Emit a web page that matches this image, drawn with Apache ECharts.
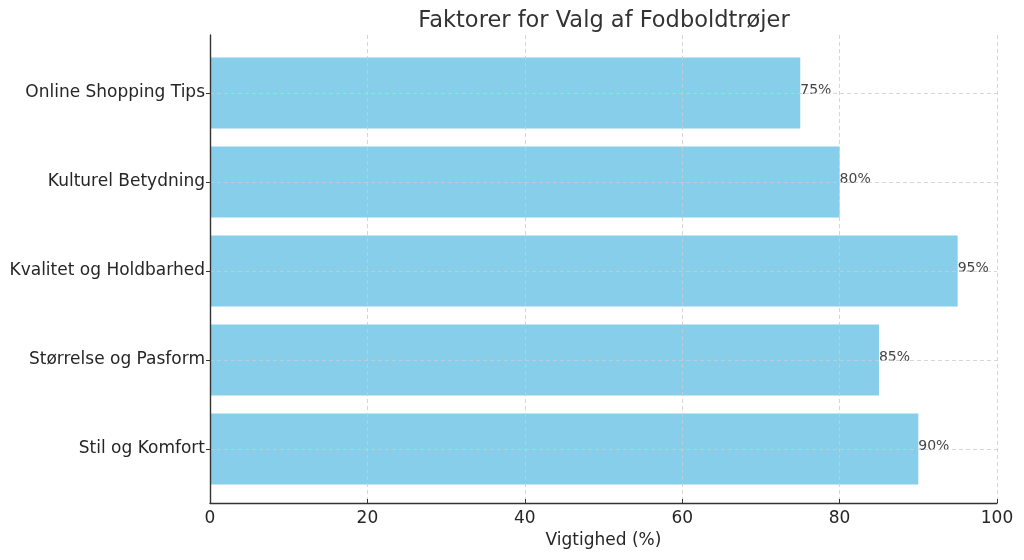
<!DOCTYPE html>
<html>
<head>
<meta charset="utf-8">
<script src="https://cdn.jsdelivr.net/npm/echarts@6/dist/echarts.min.js"></script>
<style>html,body{margin:0;padding:0;background:#fff}#c{width:1024px;height:560px}</style>
</head>
<body>
<div id="c"></div>
<script>
const titleText = 'Faktorer for Valg af Fodboldtrøjer';
const categories = ['Stil og Komfort', 'Størrelse og Pasform', 'Kvalitet og Holdbarhed', 'Kulturel Betydning', 'Online Shopping Tips'];
const values = [90, 85, 95, 80, 75];
const xTicks = [0, 20, 40, 60, 80, 100];
const xName = 'Vigtighed (%)';

const FONT = 'DejaVu Sans';
const TXT = '#262626';
const chart = echarts.init(document.getElementById('c'), null, {renderer: 'canvas'});
const gridLine = {show: true, lineStyle: {color: '#cccccc', type: [4, 3], width: 0.8}};
chart.setOption({
  animation: false,
  backgroundColor: '#ffffff',
  textStyle: {fontFamily: FONT},
  title: {
    text: titleText, left: 599, textAlign: 'center', top: 5,
    textStyle: {fontFamily: FONT, fontSize: 22.5, fontWeight: 'normal', color: '#333333'}
  },
  grid: [
    {left: 210, right: 27, top: 35, bottom: 57, containLabel: false},
    {left: 210, right: 27, top: 48.5, bottom: 66.5, containLabel: false}
  ],
  xAxis: [
    {
      gridIndex: 0, type: 'value', min: xTicks[0], max: xTicks[xTicks.length - 1], interval: 20, z: 5,
      axisLine: {show: true, lineStyle: {color: '#333333', width: 1.4}},
      axisTick: {show: true, inside: true, length: 4, lineStyle: {color: '#333333'}},
      axisLabel: {fontFamily: FONT, fontSize: 17, color: TXT, margin: 7},
      splitLine: gridLine,
      name: xName, nameLocation: 'middle', nameGap: 29,
      nameTextStyle: {fontFamily: FONT, fontSize: 17, color: TXT}
    },
    {
      gridIndex: 1, type: 'value', min: xTicks[0], max: xTicks[xTicks.length - 1], show: false
    }
  ],
  yAxis: [
    {
      gridIndex: 0, type: 'value', min: 0, max: 1, z: 5,
      axisLine: {show: true, lineStyle: {color: '#333333', width: 1.4}},
      axisTick: {show: false}, axisLabel: {show: false}, splitLine: {show: false}
    },
    {
      gridIndex: 1, type: 'category', data: categories, z: 5,
      axisLine: {show: false},
      axisTick: {show: true, inside: false, length: 4, alignWithLabel: true, lineStyle: {color: '#333333'}},
      axisLabel: {fontFamily: FONT, fontSize: 17, color: TXT, margin: 5},
      splitLine: {show: false}
    }
  ],
  series: [{
    type: 'bar', xAxisIndex: 1, yAxisIndex: 1, data: values,
    barCategoryGap: '20%',
    itemStyle: {color: '#87CEEB'},
    label: {
      show: true, position: 'right', distance: 0, formatter: p => p.value + '%',
      fontFamily: FONT, fontSize: 14, color: '#444444', offset: [0, -3]
    },
    markLine: {
      silent: true, symbol: 'none', z: 4, animation: false,
      label: {show: false},
      lineStyle: {color: '#cccccc', type: [4, 3], width: 0.8},
      emphasis: {disabled: true},
      data: categories.map(c => [{xAxis: xTicks[0], yAxis: c}, {xAxis: xTicks[xTicks.length - 1], yAxis: c}])
    }
  }]
});
</script>
</body>
</html>
